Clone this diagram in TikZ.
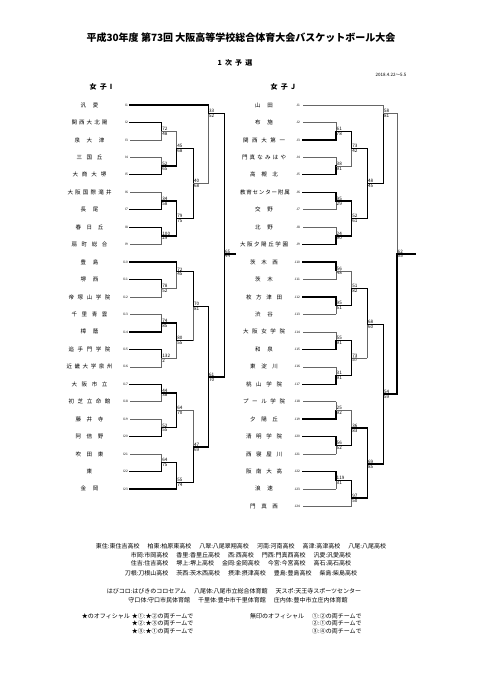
\documentclass[tikz,border=0pt]{standalone}
\usepackage{fontspec}
\setmainfont{Noto Sans CJK JP}
\usetikzlibrary{positioning}
\tikzset{
  thk/.style={line width=1.3pt,black,line cap=rect},
  thn/.style={line width=0.5pt,black!60},
  team/.style={font=\fontsize{5.5}{6}\selectfont,inner sep=0pt},
  code/.style={font=\fontsize{3.2}{3.5}\selectfont,inner sep=0pt,anchor=east},
  score/.style={font=\fontsize{4.6}{5}\selectfont,inner sep=0.5pt},
  note/.style={font=\fontsize{6}{7}\selectfont,inner sep=0pt},
  head/.style={font=\bfseries\fontsize{7}{8}\selectfont,inner sep=0pt},
}
\newcommand\gap{\hspace{8pt}}

\begin{document}
\begin{tikzpicture}[x=1pt,y=-1pt]
  \useasboundingbox (0,0) rectangle (482,680);
  % ---- headings ----
  \node[font=\bfseries\fontsize{10}{12}\selectfont] (title) at (241,38)
      {平成30年度 第73回 大阪高等学校総合体育大会バスケットボール大会};
  \node[head] (round) at (235,63) {1\ \ 次\ \ 予\ \ 選};
  \node[font=\fontsize{4.5}{5}\selectfont,anchor=east] (date) at (410,75) {2018.4.22～5.5};
  \node[head] (headI) at (101,87) {女\ \ 子\ \ I};
  \node[head] (headJ) at (283,87) {女\ \ 子\ \ J};
  % ---- block I teams ----
  \foreach \n/\w [count=\i] in {汎 愛/18, 関 西 大 北 陽/36, 泉 大 津/30, 三 国 丘/26,
      大 商 大 堺/34, 大 阪 国 際 滝 井/44, 長 尾/18, 春 日 丘/28, 扇 町 総 合/36,
      豊 島/18, 堺 西/18, 帝 塚 山 学 院/42, 千 里 青 雲/36, 樟 蔭/18,
      追 手 門 学 院/42, 近 畿 大 学 泉 州/46, 大 阪 市 立/36, 初 芝 立 命 館/42,
      藤 井 寺/28, 阿 倍 野/28, 吹 田 東/28, 東/6, 金 岡/18}{
    \node[team] (ti\i) at (89.5,{105+(\i-1)*17.45}) {\makebox[\w pt][s]{\n}};
    \node[code] (ci\i) at (128,{105+(\i-1)*17.45}) {I\i};
  }
  % ---- block J teams ----
  \foreach \n/\w [count=\i] in {山 田/18, 布 施/18, 関 西 大 第 一/42, 門 真 な み は や/44,
      高 槻 北/28, 教 育 セ ン タ ー 附 属/48, 交 野/18, 北 野/18, 大 阪 夕 陽 丘 学 園/48,
      茨 木 西/28, 茨 木/18, 枚 方 津 田/36, 渋 谷/18, 大 阪 女 学 院/42, 和 泉/18,
      東 淀 川/28, 桃 山 学 院/36, プ ー ル 学 院/42, 夕 陽 丘/28, 清 明 学 院/36,
      西 寝 屋 川/36, 阪 南 大 高/36, 浪 速/18, 門 真 西/28}{
    \node[team] (tj\i) at (264,{105+(\i-1)*17.45}) {\makebox[\w pt][s]{\n}};
    \node[code] (cj\i) at (300,{105+(\i-1)*17.45}) {J\i};
  }
  % ---- bracket: x / top y, start / bottom y, start / out y / segment styles / scores ----
  \foreach \x/\ya/\xa/\yb/\xb/\yo/\ha/\va/\hb/\vb/\ta/\tb in {
      161.7/122.45/130/139.9/130/131.2/thk/thk/thn/thn/72/48,
      161.7/157.35/130/174.8/130/166.1/thn/thn/thk/thk/52/65,
      176.7/131.2/161.7/166.1/161.7/148.6/thn/thn/thk/thk/45/68,
      161.7/192.25/130/209.7/130/201.0/thn/thn/thk/thk/34/58,
      161.7/227.15/130/244.6/130/235.9/thk/thk/thn/thn/100/29,
      176.7/201.0/161.7/235.9/161.7/218.4/thk/thk/thk/thk/79/75,
      193.3/148.6/176.7/218.4/176.7/183.5/thk/thk/thk/thk/40/68,
      208.3/105/130/183.5/193.3/113.3/thk/thk/thn/thn/33/52,
      161.7/279.5/130/296.95/130/288.2/thk/thk/thn/thn/78/52,
      176.7/262.05/130/288.2/161.7/271.7/thk/thk/thn/thn/72/45,
      161.7/314.4/130/331.85/130/323.1/thn/thn/thk/thk/74/85,
      161.7/349.3/130/366.75/130/358.0/thk/thk/thn/thn/132/2,
      176.7/323.1/161.7/358.0/161.7/340.6/thk/thk/thn/thn/80/55,
      193.3/271.7/176.7/340.6/176.7/306.5/thk/thk/thk/thn/70/81,
      161.7/384.2/130/401.65/130/392.9/thk/thk/thn/thn/44/38,
      161.7/419.1/130/436.55/130/427.8/thn/thn/thk/thk/52/55,
      176.7/392.9/161.7/427.8/161.7/410.4/thk/thk/thk/thk/64/70,
      161.7/454.0/130/471.45/130/462.7/thn/thn/thk/thk/64/75,
      176.7/462.7/161.7/488.9/130/482.5/thk/thk/thk/thk/55/74,
      193.3/410.4/176.7/482.5/176.7/447/thn/thn/thk/thk/47/69,
      208.3/306.5/193.3/447/193.3/377/thk/thk/thk/thk/61/70,
      224.3/113.3/208.3/377/208.3/254/thk/thk/thk/thk/65/44,
      336/122.45/303/139.9/303/131.2/thn/thn/thk/thk/61/78,
      336/157.35/303/174.8/303/166.1/thn/thn/thk/thk/38/91,
      351.7/131.2/336/166.1/336/148.6/thk/thk/thn/thn/73/42,
      336/192.25/303/209.7/303/201.0/thk/thk/thn/thn/95/29,
      336/227.15/303/244.6/303/235.9/thn/thn/thk/thk/24/90,
      351.7/201.0/336/235.9/336/218.4/thk/thk/thk/thk/52/61,
      367.3/148.6/351.7/218.4/351.7/183.5/thk/thk/thk/thk/48/45,
      383.3/105/303/183.5/367.3/113.3/thn/thn/thk/thk/58/81,
      336/262.05/303/279.5/303/270.8/thk/thk/thn/thn/56/48,
      336/296.95/303/314.4/303/305.7/thk/thk/thn/thn/95/51,
      351.7/270.8/336/305.7/336/288.2/thn/thn/thk/thk/51/82,
      336/331.85/303/349.3/303/340.6/thn/thn/thk/thk/55/91,
      336/366.75/303/384.2/303/375.5/thn/thn/thk/thk/31/91,
      351.7/340.6/336/375.5/336/358.0/thk/thk/thk/thk/73/57,
      367.3/288.2/351.7/358.0/351.7/324.3/thk/thk/thn/thn/68/60,
      336/401.65/303/419.1/303/410.4/thn/thn/thk/thk/25/92,
      336/436.55/303/454.0/303/445.3/thk/thk/thn/thn/56/52,
      351.7/410.4/336/445.3/336/428/thn/thn/thk/thk/36/83,
      336/471.45/303/488.9/303/480.2/thk/thk/thn/thn/119/31,
      351.7/480.2/336/506.35/303/498/thk/thk/thn/thn/97/50,
      367.3/428/351.7/498/351.7/464/thk/thk/thk/thk/69/85,
      383.3/324.3/367.3/464/367.3/394/thk/thk/thk/thk/54/59,
      397/113.3/383.3/394/383.3/254/thn/thn/thk/thk/62/55}{
    \draw[\ha] (\xa,\ya) -- (\x,\ya);
    \draw[\va] (\x,\ya) -- (\x,\yo);
    \draw[\hb] (\xb,\yb) -- (\x,\yb);
    \draw[\vb] (\x,\yb) -- (\x,\yo);
    \node[score,anchor=south west] at (\x,\yo) {\ta};
    \node[score,anchor=north west] at (\x,\yo) {\tb};
  }
  \draw[thk] (224.3,254) -- (235,254);
  \draw[thk] (397,254) -- (415,254);
  % ---- school abbreviations and venues ----
  \node[note] (ab1) at (241,546) {東住:東住吉高校\gap 柏東:柏原東高校\gap 八翠:八尾翠翔高校\gap 河南:河南高校\gap 高津:高津高校\gap 八尾:八尾高校};
  \node[note] (ab2) at (241,555) {市岡:市岡高校\gap 香里:香里丘高校\gap 西:西高校\gap 門西:門真西高校\gap 汎愛:汎愛高校};
  \node[note] (ab3) at (241,563.5) {住吉:住吉高校\gap 堺上:堺上高校\gap 金岡:金岡高校\gap 今宮:今宮高校\gap 高石:高石高校};
  \node[note] (ab4) at (241,573) {刀根:刀根山高校\gap 茨西:茨木西高校\gap 摂津:摂津高校\gap 豊島:豊島高校\gap 柴島:柴島高校};
  \node[note] (vn1) at (234,591.5) {はびコロ:はびきのコロセアム\gap 八尾体:八尾市立総合体育館\gap 天スポ:天王寺スポーツセンター};
  \node[note] (vn2) at (238,600) {守口体:守口市民体育館\gap 千里体:豊中市千里体育館\gap 庄内体:豊中市立庄内体育館};
  % ---- officials ----
  \node[note,anchor=west] (of1) at (81.7,616.3) {★のオフィシャル};
  \node[note,anchor=west] (of2) at (131.7,616.3) {★①:★②の両チームで};
  \node[note,anchor=west] (of3) at (131.7,623.7) {★②:★③の両チームで};
  \node[note,anchor=west] (of4) at (131.7,631.1) {★③:★①の両チームで};
  \node[note,anchor=west] (of5) at (250,616.3) {無印のオフィシャル};
  \node[note,anchor=west] (of6) at (312,616.3) {①:②の両チームで};
  \node[note,anchor=west] (of7) at (312,623.7) {②:①の両チームで};
  \node[note,anchor=west] (of8) at (312,631.1) {③:④の両チームで};
\end{tikzpicture}
\end{document}
